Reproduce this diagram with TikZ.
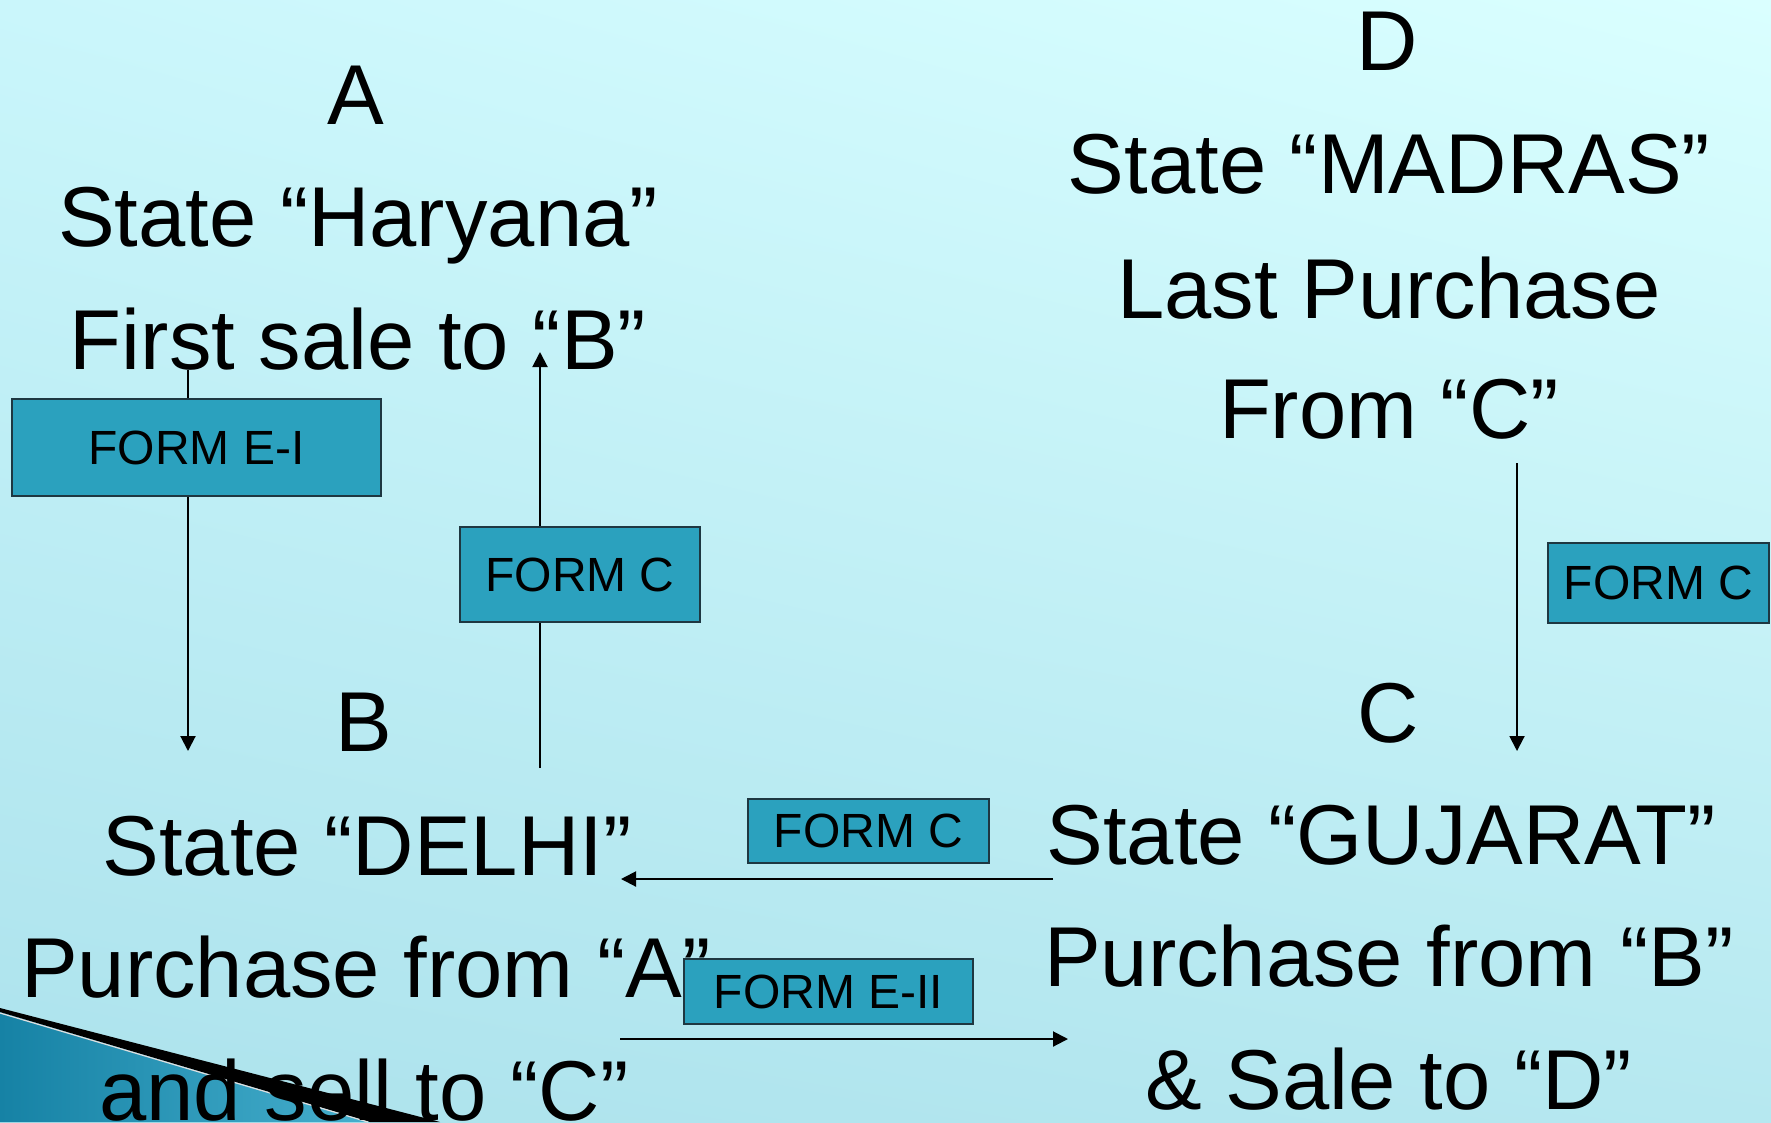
\documentclass[tikz,border=0pt]{standalone}
\usepackage{fontspec}
\setmainfont{Liberation Sans}
\usetikzlibrary{arrows.meta,shadings}
\definecolor{bgTL}{RGB}{202,246,251}
\definecolor{bgTR}{RGB}{218,255,255}
\definecolor{bgBL}{RGB}{172,226,236}
\definecolor{bgBR}{RGB}{182,232,240}
\definecolor{boxfill}{RGB}{43,161,190}
\definecolor{boxline}{RGB}{30,55,65}
\definecolor{wedgeA}{RGB}{22,130,165}
\definecolor{wedgeB}{RGB}{70,175,205}
\tikzset{
  bigtext/.style={anchor=base, inner sep=0pt, font=\fontsize{85}{100}\selectfont},
  formbox/.style={draw=boxline, line width=1.8pt, fill=boxfill, inner sep=0pt,
    font=\fontsize{48}{52}\selectfont},
  flow/.style={line width=2pt, -{Triangle[length=15pt,width=15pt]}},
}
\begin{document}
\begin{tikzpicture}[x=1pt,y=-1pt]
\useasboundingbox (0,0) rectangle (1771,1122);
\clip (0,0) rectangle (1771,1122);
% background
\shade[upper left=bgTL, upper right=bgTR, lower left=bgBL, lower right=bgBR]
  (0,0) rectangle (1771,1122);
% bottom-left wedge
\shade[left color=wedgeA, right color=wedgeB] (0,1012) -- (370,1122) -- (0,1122) -- cycle;
\fill[black] (0,1008) -- (440,1122) -- (370,1122) -- (0,1012) -- cycle;
\draw[white!75!gray, line width=1.2pt] (0,1013) -- (368,1122);

% coordinates for connectors
\coordinate (e1top) at (188,370);
\coordinate (e1end) at (188,751);
\coordinate (c1start) at (540,768);
\coordinate (c1end) at (540,352);
\coordinate (c2start) at (1517,463);
\coordinate (c2end) at (1517,751);
\coordinate (c3start) at (1053,879);
\coordinate (c3end) at (621,879);
\coordinate (e2start) at (620,1039);
\coordinate (e2end) at (1068,1039);

\draw[flow] (e1top) -- (e1end);
\draw[flow] (c1start) -- (c1end);
\draw[flow] (c2start) -- (c2end);
\draw[flow] (c3start) -- (c3end);
\draw[flow] (e2start) -- (e2end);

% form boxes
\node[formbox, minimum width=369pt, minimum height=97pt] (formE1) at (196.5,447.5) {FORM E-I};
\node[formbox, minimum width=240pt, minimum height=95pt] (formC1) at (580,574.5) {FORM C};
\node[formbox, minimum width=221pt, minimum height=80pt] (formC2) at (1658.5,583) {FORM C};
\node[formbox, minimum width=241pt, minimum height=64pt] (formC3) at (868.5,831) {FORM C};
\node[formbox, minimum width=289pt, minimum height=65pt] (formE2) at (828.5,991.5) {FORM E-II};

% texts - A
\node[bigtext] (tA) at (356,124) {A};
\node[bigtext] (tA1) at (358,246) {State “Haryana”};
\node[bigtext] (tA2) at (358,369) {First sale to “B”};
% D
\node[bigtext] (tD) at (1387,70) {D};
\node[bigtext] (tD1) at (1389,193) {State “MADRAS”};
\node[bigtext] (tD2) at (1389,318) {Last Purchase};
\node[bigtext] (tD3) at (1389,438) {From “C”};
% B
\node[bigtext] (tB) at (364,751) {B};
\node[bigtext] (tB1) at (367,875) {State “DELHI”};
\node[bigtext] (tB2) at (366,997) {Purchase from “A”};
\node[bigtext] (tB3) at (364,1120) {and sell to “C”};
% C
\node[bigtext] (tC) at (1388,742) {C};
\node[bigtext] (tC1) at (1381,864) {State “GUJARAT”};
\node[bigtext] (tC2) at (1389,986) {Purchase from “B”};
\node[bigtext] (tC3) at (1389,1109) {\& Sale to “D”};
\end{tikzpicture}
\end{document}
